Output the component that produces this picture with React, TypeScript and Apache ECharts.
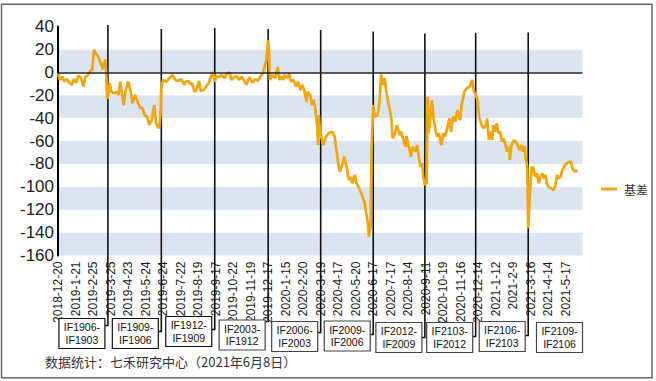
import React, { useEffect, useRef } from "react";
import * as echarts from "echarts";

// x-axis tick labels (one every 20 trading days)
const dateLabels = [
  "2018-12-20", "2019-1-21", "2019-2-25", "2019-3-25", "2019-4-23", "2019-5-24",
  "2019-6-24", "2019-7-22", "2019-8-19", "2019-9-17", "2019-10-22", "2019-11-19",
  "2019-12-17", "2020-1-15", "2020-2-20", "2020-3-19", "2020-4-17", "2020-5-20",
  "2020-6-17", "2020-7-17", "2020-8-14", "2020-9-11", "2020-10-19", "2020-11-16",
  "2020-12-14", "2021-1-12", "2021-2-9", "2021-3-16", "2021-4-14", "2021-5-17",
];

// trading-day index (from 2018-12-20) of each reading
const dayIndex = [
  0, 2, 5, 7, 10, 13, 16, 18, 21, 23, 26, 29, 31, 34, 37, 39, 41, 43, 46, 49, 51, 54, 55, 56, 57,
  59, 61, 64, 67, 69, 71, 75, 77, 80, 83, 85, 88, 91, 94, 96, 99, 102, 104, 107, 110, 112, 115, 116, 117,
  118, 120, 124, 127, 131, 134, 137, 141, 144, 146, 149, 151, 153, 156, 158, 161, 163, 166, 169, 172, 174,
  177, 179, 181, 184, 187, 190, 193, 196, 198, 201, 204, 207, 210, 213, 215, 217, 219, 222, 225, 228, 231,
  234, 236, 238, 240, 241, 242, 245, 248, 251, 253, 255, 257, 259, 262, 264, 266, 269, 272, 274, 277, 279,
  281, 284, 285, 288, 290, 292, 294, 296, 297, 298, 299, 301, 303, 306, 309, 313, 316, 318, 320, 322, 325,
  327, 330, 332, 334, 336, 339, 341, 344, 347, 350, 352, 354, 355, 357, 358, 360, 362, 365, 367, 369, 371,
  373, 375, 377, 379, 381, 382, 385, 387, 390, 392, 395, 397, 398, 401, 403, 405, 408, 410, 412, 414, 416,
  417, 419, 421, 422, 423, 425, 427, 429, 431, 433, 435, 437, 438, 440, 442, 445, 447, 449, 451, 454, 456,
  459, 461, 464, 467, 470, 473, 475, 477, 479, 480, 481, 483, 486, 489, 490, 492, 494, 496, 497, 499, 501,
  503, 505, 507, 509, 511, 513, 515, 516, 518, 521, 524, 527, 529, 531, 533, 534, 536, 537, 539, 541, 543,
  545, 547, 549, 551, 553, 555, 557, 558, 560, 563, 566, 568, 570, 572, 574, 576, 579, 581, 584, 586, 588,
  591, 593,
];

// 基差 (basis) readings
const basis = [
  -1, -6.7, -3.8, -8, -6, -9, -11, -6, -9, -3, -4.4, -12.5, -4.4, -2.4, 1.4, 2, 19.5, 16.6, 13.6, 7.9, 2.6, 11.4, -0.3, -22.7, -21.8,
  -9.6, -17, -18.3, -17, -19.8, -8.2, -28.6, -17, -8.2, -17, -27, -19.8, -25.7, -31.4, -30.6, -37.3, -38.8, -46, -41.7, -28.6, -44.5, -48.9, -44, -38,
  -12.6, -6.7, -8.2, -5.2, -2.4, -6.7, -7.6, -6.1, -11, -8.2, -7.6, -10.2, -9.6, -17, -15.5, -7.6, -16.3, -15.5, -12.6, -9.6, -5.2,
  0.5, -8.2, -3.2, -4.4, -2.4, -5.2, -0.9, -0.3, -6.7, -4.4, -3.2, -6.7, -3.8, -8.2, -11, -6.7, -4.4, -9, -6.1, -7.3, -3.8,
  -0.9, 4.9, 10.7, 28, 18, -6.7, -2.4, -5.2, 4.9, -6.7, -3.8, -6.7, -2.4, -5.2, -0.9, -8.2, -6.7, -12.6, -8.2, -15.5, -11,
  -15.5, -25.7, -17, -19.8, -28.6, -24.2, -33, -47.5, -63.5, -37.3, -50.4, -57.6, -63.5, -56.2, -53.3, -51.9, -56.2, -67.9, -79.5, -86.8, -79.5,
  -73.7, -83.8, -94, -91.2, -97, -89.7, -97, -101.3, -107, -113, -123, -132, -143.6, -135, -70.7, -28.6, -38.8, -37.3, -27, -2, -11,
  -5.2, -17, -25.7, -33, -41.7, -57.6, -53.3, -46, -54.8, -51.9, -60.6, -65, -55.6, -66.4, -73.7, -65, -69.3, -63.5, -73.7, -82.4, -79.5,
  -91.2, -98.4, -97, -21.3, -53.3, -41.7, -24.2, -40.2, -50.4, -56.2, -53.3, -62, -63.5, -53.3, -56.2, -47.5, -40.2, -51.9, -38.8, -43.1, -33,
  -41.7, -28.6, -17, -14, -12.6, -6.7, -17, -19, -24, -30, -38.8, -44.5, -48.9, -46, -40.2, -59.1, -51.9, -59.1, -46, -51.9, -44.5,
  -53.3, -51.9, -60.6, -57.6, -63.5, -69.3, -65, -76.6, -63.5, -59.1, -62, -67.9, -63.5, -69.3, -64.4, -75.1, -82.4, -136.2, -105.7, -82.4, -83.8,
  -91.2, -88.2, -97, -91.2, -88.2, -92.6, -89.7, -97, -99.9, -101.3, -102.8, -98.4, -89.7, -92.6, -91.2, -85.3, -81, -79.5, -78, -78.9, -85.3,
  -86.8, -85.3,
];

// contract roll-over days (trading-day index) and contract pairs
const rollIndex = [57, 118, 179, 240, 300, 360, 419, 477, 537];
const contractNew = ["IF1906", "IF1909", "IF1912", "IF2003", "IF2006", "IF2009", "IF2012", "IF2103", "IF2106", "IF2109"];
const contractOld = ["IF1903", "IF1906", "IF1909", "IF1912", "IF2003", "IF2006", "IF2009", "IF2012", "IF2103", "IF2106"];

const seriesName = "基差";
const sourceText = "数据统计：七禾研究中心（2021年6月8日）";

const Y_MIN = -160;
const Y_MAX = 40;
const Y_STEP = 20;
const X_MAX = 599;
const TICK_EVERY = 20;

export default function App() {
  const ref = useRef<HTMLDivElement>(null);

  useEffect(() => {
    if (!ref.current) return;
    const chart = echarts.init(ref.current, undefined, { renderer: "svg" });
    const font = "'Liberation Sans', Arial, sans-serif";

    // annotation layout (pixels)
    const lineTopOff = [-1.5, 2.5, 1.5, 2.5, 3.5, 5, 7, 6.5, 6];
    const lineBottomOff = [70, 76, 74, 66, 77, 79, 82, 81, 80];
    const boxDrop = [63, 63, 61, 64.5, 66, 65.5, 67, 67, 66, 67];

    const lineData = dayIndex.map((d, i) => [d, basis[i]]);
    const boxData = contractNew.map((_, i) => [
      i === 0 ? 0 : rollIndex[i - 1],
      i < rollIndex.length ? rollIndex[i] : X_MAX,
    ]);

    chart.setOption({
      animation: false,
      backgroundColor: "#ffffff",
      grid: { left: 58, top: 26.5, width: 524.5, height: 229, containLabel: false },
      legend: {
        data: [seriesName],
        left: 596,
        top: 178,
        icon: "rect",
        itemWidth: 16,
        itemHeight: 3,
        textStyle: { fontSize: 12, color: "#333", fontFamily: "'Noto Sans CJK SC', sans-serif", padding: [0, 0, 0, 2] },
      },
      xAxis: {
        type: "value",
        min: 0,
        max: X_MAX,
        interval: TICK_EVERY,
        axisLine: { show: false },
        axisTick: { show: false },
        splitLine: { show: false },
        axisLabel: {
          rotate: 90,
          margin: 6,
          fontSize: 12,
          color: "#1a1a1a",
          fontFamily: font,
          showMaxLabel: false,
          formatter: (v: number) => {
            const k = v / TICK_EVERY;
            return Number.isInteger(k) && dateLabels[k] ? dateLabels[k] : "";
          },
        },
      },
      yAxis: {
        type: "value",
        min: Y_MIN,
        max: Y_MAX,
        interval: Y_STEP,
        axisLine: { show: true, onZero: false, lineStyle: { color: "#000", width: 2 } },
        axisTick: { show: false },
        splitLine: { show: false },
        splitArea: { show: true, areaStyle: { color: ["#dbe5f1", "#ffffff"] } },
        axisLabel: { fontSize: 17, color: "#222", margin: 4, fontFamily: font },
      },
      series: [
        {
          type: "custom",
          name: "rolls",
          clip: false,
          silent: true,
          z: 3,
          data: boxData,
          renderItem: (params: any, api: any) => {
            const i = params.dataIndex;
            const end = api.value(1);
            const isLast = i === contractNew.length - 1;
            const top = api.coord([0, Y_MAX])[1];
            const bottom = api.coord([0, Y_MIN])[1];
            const endX = api.coord([end, 0])[0];
            const boxW = 46;
            const boxH = 30;
            const right = isLast ? endX : endX - 3;
            const left = right - boxW;
            const boxTop = bottom + boxDrop[i];
            const children: any[] = [];
            if (!isLast) {
              const yEnd = bottom + lineBottomOff[i];
              children.push({
                type: "polyline",
                shape: { points: [[endX, top + lineTopOff[i]], [endX, yEnd], [right, yEnd]] },
                style: { stroke: "#111", lineWidth: 1.6, fill: "none" },
              });
            }
            children.push({
              type: "rect",
              shape: { x: left, y: boxTop, width: boxW, height: boxH },
              style: { fill: "#fff", stroke: i < 3 ? "#111" : "#444", lineWidth: 1.2 },
            });
            children.push({
              type: "text",
              style: {
                text: contractNew[i] + "-\n" + contractOld[i],
                x: left + boxW / 2,
                y: boxTop + boxH / 2,
                align: "center",
                verticalAlign: "middle",
                fontSize: 10.5,
                lineHeight: 12.5,
                fill: "#111",
                fontFamily: font,
              },
            });
            return { type: "group", children };
          },
        },
        {
          type: "line",
          name: seriesName,
          data: lineData,
          symbol: "none",
          z: 4,
          lineStyle: { color: "#f3a50c", width: 2.7 },
          itemStyle: { color: "#f3a50c" },
          markLine: {
            silent: true,
            symbol: "none",
            label: { show: false },
            lineStyle: { color: "#222", width: 1.5, type: "solid" },
            data: [{ yAxis: 0 }],
          },
        },
      ],
      graphic: [
        {
          type: "rect",
          shape: { x: 1.5, y: 4.3, width: 650.5, height: 373.4 },
          style: { fill: "none", stroke: "#666", lineWidth: 1.5 },
          silent: true,
        },
        {
          type: "text",
          left: 45,
          top: 355,
          style: { text: sourceText, fontSize: 13, fill: "#333", fontFamily: "'Noto Sans CJK SC', sans-serif" },
        },
      ],
    });

    return () => chart.dispose();
  }, []);

  return (
    <div
      ref={ref}
      style={{ position: "fixed", left: 0, top: 0, width: 656, height: 381, background: "#fff" }}
    />
  );
}
